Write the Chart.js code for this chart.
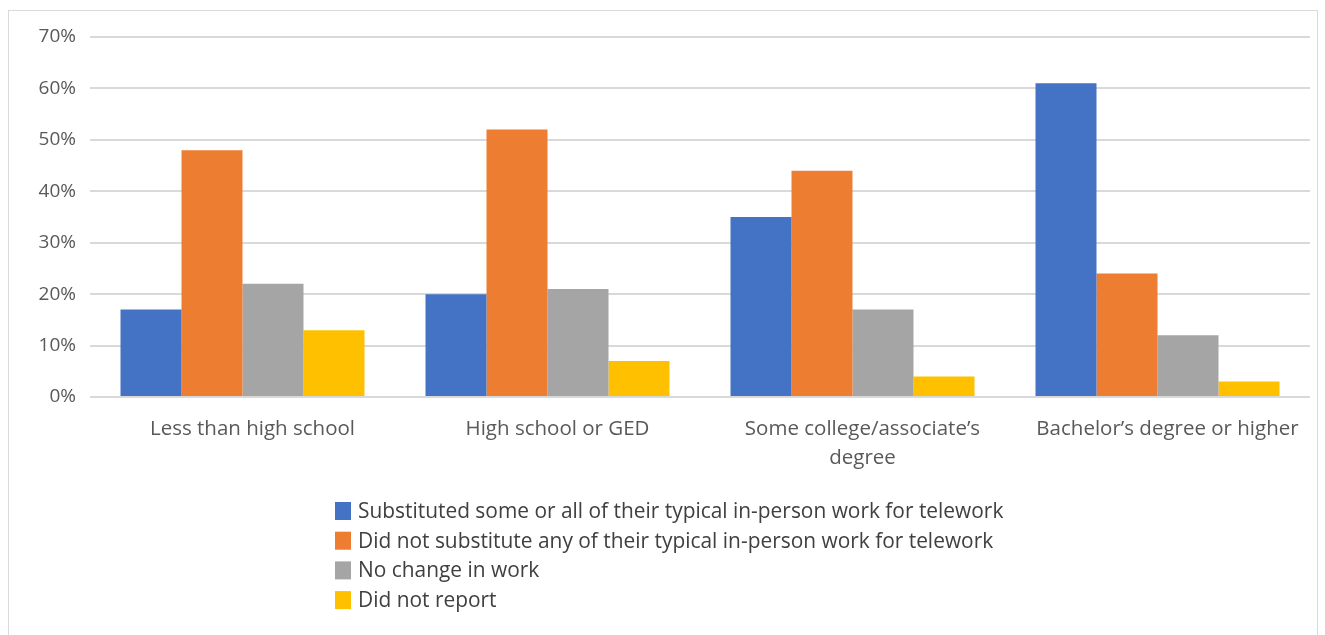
<!DOCTYPE html>
<html lang="en">
  <head>
    <meta charset="UTF-8">
    <title>Telework by education</title>
    <script src="https://cdn.jsdelivr.net/npm/chart.js"></script>
    <style>
      body { margin: 0; background: #fff; }
      #wrap { position: relative; width: 1325px; height: 635px; }
      #frame { position: absolute; left: 8px; top: 10px; width: 1310px; height: 640px; border: 1px solid #D9D9D9; box-sizing: border-box; }
      canvas { position: absolute; left: 0; top: 0; }
    </style>
    <script>
      const categories = ['Less than high school', 'High school or GED', ['Some college/associate\u2019s', 'degree'], 'Bachelor\u2019s degree or higher'];
      const seriesNames = [
        'Substituted some or all of their typical in-person work for telework',
        'Did not substitute any of their typical in-person work for telework',
        'No change in work',
        'Did not report'
      ];
      const substituted = [0.17, 0.20, 0.35, 0.61];
      const notSubstituted = [0.48, 0.52, 0.44, 0.24];
      const noChange = [0.22, 0.21, 0.17, 0.12];
      const notReported = [0.13, 0.07, 0.04, 0.03];
      const colors = ['#4472C4', '#ED7D31', '#A5A5A5', '#FFC000'];

      // legend as a vertical list under the chart, like Excel does it
      const listLegend = {
        id: 'listLegend',
        afterDraw(chart) {
          const ctx = chart.ctx;
          ctx.save();
          ctx.font = '20.9px "Open Sans"';
          ctx.textBaseline = 'middle';
          chart.data.datasets.forEach((ds, i) => {
            const y = 511 + i * 29.7;
            ctx.fillStyle = ds.backgroundColor;
            ctx.fillRect(335, y - 9, 16, 18);
            ctx.fillStyle = '#404040';
            ctx.fillText(ds.label, 358, y + 1);
          });
          ctx.restore();
        }
      };

      window.onload = function () {
        const values = [substituted, notSubstituted, noChange, notReported];
        const ctx = document.getElementById('chart').getContext('2d');
        new Chart(ctx, {
          type: 'bar',
          data: {
            labels: categories,
            datasets: seriesNames.map((name, i) => ({
              label: name,
              data: values[i],
              backgroundColor: colors[i],
              categoryPercentage: 0.8,
              barPercentage: 1.0
            }))
          },
          options: {
            responsive: false,
            animation: false,
            layout: { padding: { left: 8, right: 15, top: 37, bottom: 148 } },
            plugins: { legend: { display: false }, tooltip: { enabled: false } },
            scales: {
              x: {
                grid: { display: false },
                border: { display: false },
                ticks: {
                  color: '#595959',
                  font: { family: 'Open Sans', size: 20.5, lineHeight: 1.415 },
                  maxRotation: 0,
                  autoSkip: false,
                  labelOffset: 10,
                  padding: 10
                },
                afterFit(scale) { scale.height = 90; }
              },
              y: {
                min: 0,
                max: 0.7,
                border: { display: false },
                grid: { color: '#D9D9D9', lineWidth: 2, drawTicks: false },
                ticks: {
                  stepSize: 0.1,
                  color: '#595959',
                  padding: 14,
                  font: { family: 'Open Sans', size: 19 },
                  callback: (v) => Math.round(v * 100) + '%'
                },
                afterFit(scale) { scale.width = 82; }
              }
            }
          },
          plugins: [listLegend]
        });
      };
    </script>
  </head>
  <body>
    <div id="wrap">
      <div id="frame"></div>
      <canvas id="chart" width="1325" height="635"></canvas>
    </div>
  </body>
</html>
